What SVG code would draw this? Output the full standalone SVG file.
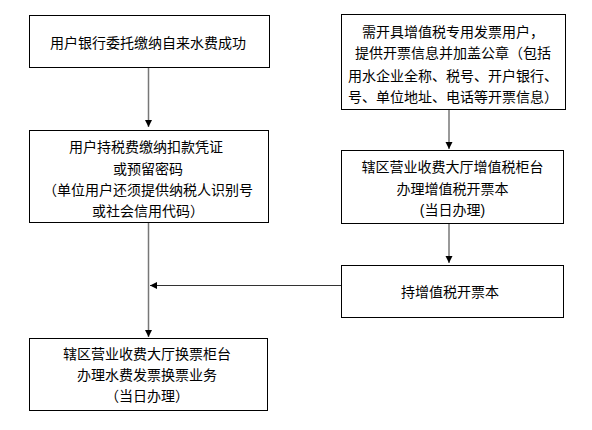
<svg xmlns="http://www.w3.org/2000/svg" width="592" height="430" viewBox="0 0 592 430">
<style>
.box{fill:#fff;stroke:#000;stroke-width:1}
.t{font-family:"Liberation Sans","Noto Sans CJK SC",sans-serif;font-size:14px;fill:#000;text-anchor:middle;dominant-baseline:central}
.v{stroke:#777;stroke-width:1.5;fill:none}
.h{stroke:#333;stroke-width:1;fill:none}
</style>
<defs>
<marker id="ah" markerWidth="8" markerHeight="8" refX="7" refY="4" orient="auto" markerUnits="userSpaceOnUse">
<path d="M0,0.5 L7,4 L0,7.5 Z" fill="#000"/>
</marker>
</defs>
<rect width="592" height="430" fill="#fff"/>
<g id="connectors">
<line class="v" x1="148.5" y1="67" x2="148.5" y2="127" marker-end="url(#ah)"/>
<line class="v" x1="148.5" y1="223" x2="148.5" y2="337" marker-end="url(#ah)"/>
<line class="v" x1="449" y1="110" x2="449" y2="149" marker-end="url(#ah)"/>
<line class="v" x1="449" y1="223" x2="449" y2="263" marker-end="url(#ah)"/>
<line class="h" x1="342" y1="285.5" x2="150" y2="285.5" marker-end="url(#ah)"/>
</g>
<g id="n1">
<rect class="box" x="29.5" y="15.5" width="240" height="52"/>
<text class="t" x="148" y="43">用户银行委托缴纳自来水费成功</text>
</g>
<g id="n2">
<rect class="box" x="29.5" y="130.5" width="239" height="92"/>
<text class="t" x="146" y="147">用户持税费缴纳扣款凭证</text>
<text class="t" x="148" y="168.5">或预留密码</text>
<text class="t" x="148" y="190">（单位用户还须提供纳税人识别号</text>
<text class="t" x="148" y="211">或社会信用代码）</text>
</g>
<g id="n3">
<rect class="box" x="341.5" y="14.5" width="224" height="95"/>
<text class="t" x="453" y="32">需开具增值税专用发票用户，</text>
<text class="t" x="453" y="53">提供开票信息并加盖公章（包括</text>
<text class="t" x="453" y="76">用水企业全称、税号、开户银行、</text>
<text class="t" x="453" y="97">号、单位地址、电话等开票信息）</text>
</g>
<g id="n4">
<rect class="box" x="341.5" y="150.5" width="222" height="73"/>
<text class="t" x="452.5" y="167">辖区营业收费大厅增值税柜台</text>
<text class="t" x="452.5" y="188.5">办理增值税开票本</text>
<text class="t" x="452.5" y="209.5">(当日办理)</text>
</g>
<g id="n5">
<rect class="box" x="29.5" y="338.5" width="238" height="72"/>
<text class="t" x="147" y="353.5">辖区营业收费大厅换票柜台</text>
<text class="t" x="147" y="375">办理水费发票换票业务</text>
<text class="t" x="147" y="396">（当日办理）</text>
</g>
<g id="n6">
<rect class="box" x="341.5" y="265.5" width="222" height="52"/>
<text class="t" x="450" y="291.5">持增值税开票本</text>
</g>
</svg>
